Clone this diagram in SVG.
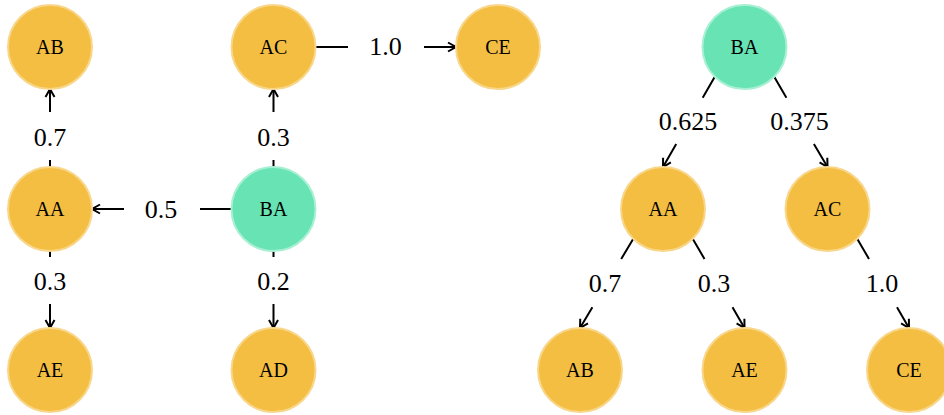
<svg xmlns="http://www.w3.org/2000/svg" width="944" height="415" viewBox="0 0 944 415">
  <defs>
    <marker id="arrow" markerUnits="userSpaceOnUse" markerWidth="14" markerHeight="14" viewBox="-10 -7 14 14" refX="0" refY="0" orient="auto" overflow="visible">
      <path d="M -8 -4.5 L 0 0 L -8 4.5" fill="none" stroke="#000" stroke-width="2" stroke-linejoin="miter"/>
    </marker>
  </defs>
  <style>
    .node circle { stroke-width: 2; }
    .leaf circle { fill: #F4BE43; stroke: #F8D68A; }
    .root circle { fill: #68E3B4; stroke: #A8F0D4; }
    .node text { font-size: 20px; fill: #000; text-anchor: middle; }
    .edges path { fill: none; stroke: #000; stroke-width: 2; marker-end: url(#arrow); }
    .edges text { font-size: 26px; fill: #000; text-anchor: middle; }
  </style>
  <rect width="944" height="415" fill="#fff"/>

  <g font-family="Liberation Serif, Times New Roman, DejaVu Serif, serif">
  <!-- Graph view: connectors -->
  <g id="graph-edges" class="edges">
    <path d="M50 167 L50 160 M50 112 L50 89"/>
    <text x="50" y="146">0.7</text>
    <path d="M273.5 167 L273.5 160 M273.5 112 L273.5 89"/>
    <text x="273.5" y="146">0.3</text>
    <path d="M231.5 209 L200 209 M124 209 L92 209"/>
    <text x="161" y="218">0.5</text>
    <path d="M315.5 47 L348 47 M424 47 L456 47"/>
    <text x="385.5" y="55">1.0</text>
    <path d="M50 251 L50 257 M50 304 L50 328"/>
    <text x="50" y="290">0.3</text>
    <path d="M273.5 251 L273.5 257 M273.5 304 L273.5 328"/>
    <text x="273.5" y="290">0.2</text>
  </g>

  <!-- Graph view: nodes -->
  <g id="g-AB" class="node leaf"><circle cx="50" cy="47" r="42"/><text x="50" y="54">AB</text></g>
  <g id="g-AC" class="node leaf"><circle cx="273.5" cy="47" r="42"/><text x="273.5" y="54">AC</text></g>
  <g id="g-CE" class="node leaf"><circle cx="498" cy="47" r="42"/><text x="498" y="54">CE</text></g>
  <g id="g-AA" class="node leaf"><circle cx="50" cy="209" r="42"/><text x="50" y="216">AA</text></g>
  <g id="g-BA" class="node root"><circle cx="273.5" cy="209" r="42"/><text x="273.5" y="216">BA</text></g>
  <g id="g-AE" class="node leaf"><circle cx="50" cy="370" r="42"/><text x="50" y="377">AE</text></g>
  <g id="g-AD" class="node leaf"><circle cx="273.5" cy="370" r="42"/><text x="273.5" y="377">AD</text></g>

  <!-- Tree view: connectors -->
  <g id="tree-edges" class="edges">
    <path d="M714.8 76.7 L702.7 97.7 M676.2 144 L663 167"/>
    <text x="688" y="130">0.625</text>
    <path d="M774.2 76.7 L786.4 97.7 M813.9 144 L827.5 167"/>
    <text x="799.5" y="130">0.375</text>
    <path d="M633.3 238.7 L621.2 259 M592.4 307.3 L580 328"/>
    <text x="605" y="292">0.7</text>
    <path d="M692.7 238.7 L704.5 259 M732.5 307.3 L744.5 328"/>
    <text x="714" y="292">0.3</text>
    <path d="M857.2 238.7 L869 259 M897 307.3 L909 328"/>
    <text x="882" y="292">1.0</text>
  </g>

  <!-- Tree view: nodes -->
  <g id="t-BA" class="node root"><circle cx="744.5" cy="47" r="42"/><text x="744.5" y="54">BA</text></g>
  <g id="t-AA" class="node leaf"><circle cx="663" cy="209" r="42"/><text x="663" y="216">AA</text></g>
  <g id="t-AC" class="node leaf"><circle cx="827.5" cy="209" r="42"/><text x="827.5" y="216">AC</text></g>
  <g id="t-AB" class="node leaf"><circle cx="580" cy="370" r="42"/><text x="580" y="377">AB</text></g>
  <g id="t-AE" class="node leaf"><circle cx="744.5" cy="370" r="42"/><text x="744.5" y="377">AE</text></g>
  <g id="t-CE" class="node leaf"><circle cx="909" cy="370" r="42"/><text x="909" y="377">CE</text></g>
  </g>
</svg>
